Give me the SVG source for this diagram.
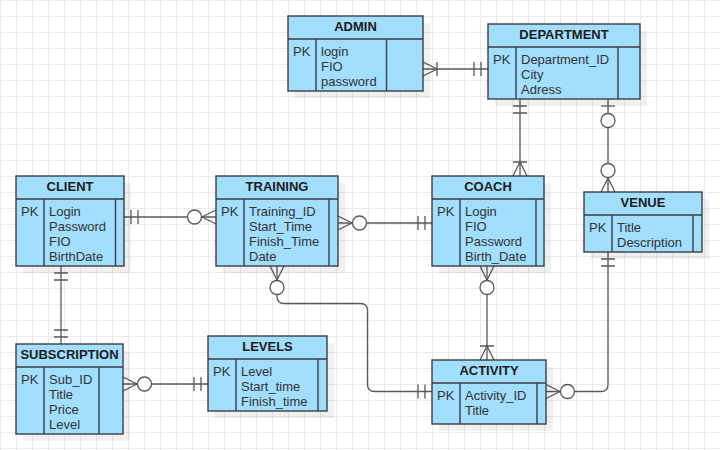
<svg xmlns="http://www.w3.org/2000/svg" width="720" height="450" viewBox="0 0 720 450">
<style>
.sh{fill:#000;fill-opacity:0.06}
.box{fill:#a2defd;stroke:#3b3e42;stroke-width:1.4}
.div{stroke:#3b3e42;stroke-width:1.4;fill:none}
.hd{font-family:"Liberation Sans",Arial,sans-serif;font-size:13px;font-weight:bold;fill:#1c1c1c;text-anchor:middle}
.tx{font-family:"Liberation Sans",Arial,sans-serif;font-size:13px;fill:#333}
.ln{fill:none;stroke:#585858;stroke-width:1.3}
.mk{fill:none;stroke:#585858;stroke-width:1.3}
.mc{fill:#fff;stroke:#585858;stroke-width:1.3}
</style>
<defs>
<pattern id="grid" width="16" height="16" patternUnits="userSpaceOnUse">
<path d="M0.5,0V16M0,0.5H16" stroke="#ebebeb" stroke-width="1" fill="none"/>
</pattern>
<marker id="one" markerUnits="userSpaceOnUse" viewBox="-32 -10 34 20" markerWidth="34" markerHeight="20" refX="0" refY="0" orient="auto-start-reverse" overflow="visible">
<path class="mk" d="M-7,-7V7M-14,-7V7"/>
</marker>
<marker id="manyOne" markerUnits="userSpaceOnUse" viewBox="-32 -10 34 20" markerWidth="34" markerHeight="20" refX="0" refY="0" orient="auto-start-reverse" overflow="visible">
<path class="mk" d="M0,-7L-14,0L0,7M-14,-7V7"/>
</marker>
<marker id="zeroMany" markerUnits="userSpaceOnUse" viewBox="-32 -10 34 20" markerWidth="34" markerHeight="20" refX="0" refY="0" orient="auto-start-reverse" overflow="visible">
<path class="mk" d="M0,-7L-14,0L0,7"/>
<circle class="mc" cx="-21.5" cy="0" r="7"/>
</marker>
<marker id="zeroOne" markerUnits="userSpaceOnUse" viewBox="-32 -10 34 20" markerWidth="34" markerHeight="20" refX="0" refY="0" orient="auto-start-reverse" overflow="visible">
<path class="mk" d="M-7,-7V7"/>
<circle class="mc" cx="-21.5" cy="0" r="7"/>
</marker>
</defs>
<rect width="720" height="450" fill="#fff"/>
<rect width="720" height="450" fill="url(#grid)"/>

<g id="connectors">
<path class="ln" d="M423,69H488" marker-start="url(#manyOne)" marker-end="url(#one)"/>
<path class="ln" d="M520,99V176" marker-start="url(#one)" marker-end="url(#manyOne)"/>
<path class="ln" d="M608,99V192" marker-start="url(#zeroOne)" marker-end="url(#zeroMany)"/>
<path class="ln" d="M124,217H216" marker-start="url(#one)" marker-end="url(#zeroMany)"/>
<path class="ln" d="M338,223H432" marker-start="url(#zeroMany)" marker-end="url(#one)"/>
<path class="ln" d="M61,266V344" marker-start="url(#one)" marker-end="url(#one)"/>
<path class="ln" d="M123,384H208" marker-start="url(#zeroMany)" marker-end="url(#one)"/>
<path class="ln" d="M277,266V296.5Q277,303.5 284,303.5H360.5Q367.5,303.5 367.5,310.5V384.5Q367.5,391.5 374.5,391.5H432" marker-start="url(#zeroMany)" marker-end="url(#one)"/>
<path class="ln" d="M487,266V360" marker-start="url(#zeroMany)" marker-end="url(#manyOne)"/>
<path class="ln" d="M608,252V384.5Q608,391.5 601,391.5H546" marker-start="url(#one)" marker-end="url(#zeroMany)"/>
</g>

<g id="admin">
<rect class="sh" x="295" y="23" width="135" height="75"/>
<rect class="box" x="288" y="16" width="135" height="75"/>
<path class="div" d="M288,39H423M316,39V91M386.5,39V91"/>
<text class="hd" x="355.5" y="31">ADMIN</text>
<text class="tx" x="293" y="56">PK</text>
<text class="tx" x="321" y="56">login</text>
<text class="tx" x="321" y="71">FIO</text>
<text class="tx" x="321" y="86">password</text>
</g>

<g id="department">
<rect class="sh" x="495" y="31" width="152" height="75"/>
<rect class="box" x="488" y="24" width="152" height="75"/>
<path class="div" d="M488,47H640M516,47V99M618,47V99"/>
<text class="hd" x="564" y="39">DEPARTMENT</text>
<text class="tx" x="493" y="64">PK</text>
<text class="tx" x="521" y="64">Department_ID</text>
<text class="tx" x="521" y="79">City</text>
<text class="tx" x="521" y="94">Adress</text>
</g>

<g id="client">
<rect class="sh" x="23" y="183" width="108" height="90"/>
<rect class="box" x="16" y="176" width="108" height="90"/>
<path class="div" d="M16,199H124M44,199V266M115.5,199V266"/>
<text class="hd" x="70" y="191">CLIENT</text>
<text class="tx" x="21" y="216">PK</text>
<text class="tx" x="49" y="216">Login</text>
<text class="tx" x="49" y="231">Password</text>
<text class="tx" x="49" y="246">FIO</text>
<text class="tx" x="49" y="261">BirthDate</text>
</g>

<g id="training">
<rect class="sh" x="223" y="183" width="122" height="90"/>
<rect class="box" x="216" y="176" width="122" height="90"/>
<path class="div" d="M216,199H338M244,199V266M329,199V266"/>
<text class="hd" x="277" y="191">TRAINING</text>
<text class="tx" x="221" y="216">PK</text>
<text class="tx" x="249" y="216">Training_ID</text>
<text class="tx" x="249" y="231">Start_Time</text>
<text class="tx" x="249" y="246">Finish_Time</text>
<text class="tx" x="249" y="261">Date</text>
</g>

<g id="coach">
<rect class="sh" x="439" y="183" width="112" height="90"/>
<rect class="box" x="432" y="176" width="112" height="90"/>
<path class="div" d="M432,199H544M460,199V266M536,199V266"/>
<text class="hd" x="488" y="191">COACH</text>
<text class="tx" x="437" y="216">PK</text>
<text class="tx" x="465" y="216">Login</text>
<text class="tx" x="465" y="231">FIO</text>
<text class="tx" x="465" y="246">Password</text>
<text class="tx" x="465" y="261">Birth_Date</text>
</g>

<g id="venue">
<rect class="sh" x="591" y="199" width="118" height="60"/>
<rect class="box" x="584" y="192" width="118" height="60"/>
<path class="div" d="M584,215H702M612,215V252M693,215V252"/>
<text class="hd" x="643" y="207">VENUE</text>
<text class="tx" x="589" y="232">PK</text>
<text class="tx" x="617" y="232">Title</text>
<text class="tx" x="617" y="247">Description</text>
</g>

<g id="subscription">
<rect class="sh" x="23" y="351" width="107" height="90"/>
<rect class="box" x="16" y="344" width="107" height="90"/>
<path class="div" d="M16,367H123M44,367V434M99,367V434"/>
<text class="hd" x="69.5" y="359">SUBSCRIPTION</text>
<text class="tx" x="21" y="384">PK</text>
<text class="tx" x="49" y="384">Sub_ID</text>
<text class="tx" x="49" y="399">Title</text>
<text class="tx" x="49" y="414">Price</text>
<text class="tx" x="49" y="429">Level</text>
</g>

<g id="levels">
<rect class="sh" x="215" y="343" width="119" height="75"/>
<rect class="box" x="208" y="336" width="119" height="75"/>
<path class="div" d="M208,359H327M236,359V411M318,359V411"/>
<text class="hd" x="267.5" y="351">LEVELS</text>
<text class="tx" x="213" y="376">PK</text>
<text class="tx" x="241" y="376">Level</text>
<text class="tx" x="241" y="391">Start_time</text>
<text class="tx" x="241" y="406">Finish_time</text>
</g>

<g id="activity">
<rect class="sh" x="439" y="367" width="114" height="64"/>
<rect class="box" x="432" y="360" width="114" height="64"/>
<path class="div" d="M432,383H546M460,383V424M537,383V424"/>
<text class="hd" x="489" y="375">ACTIVITY</text>
<text class="tx" x="437" y="400">PK</text>
<text class="tx" x="465" y="400">Activity_ID</text>
<text class="tx" x="465" y="415">Title</text>
</g>
</svg>
